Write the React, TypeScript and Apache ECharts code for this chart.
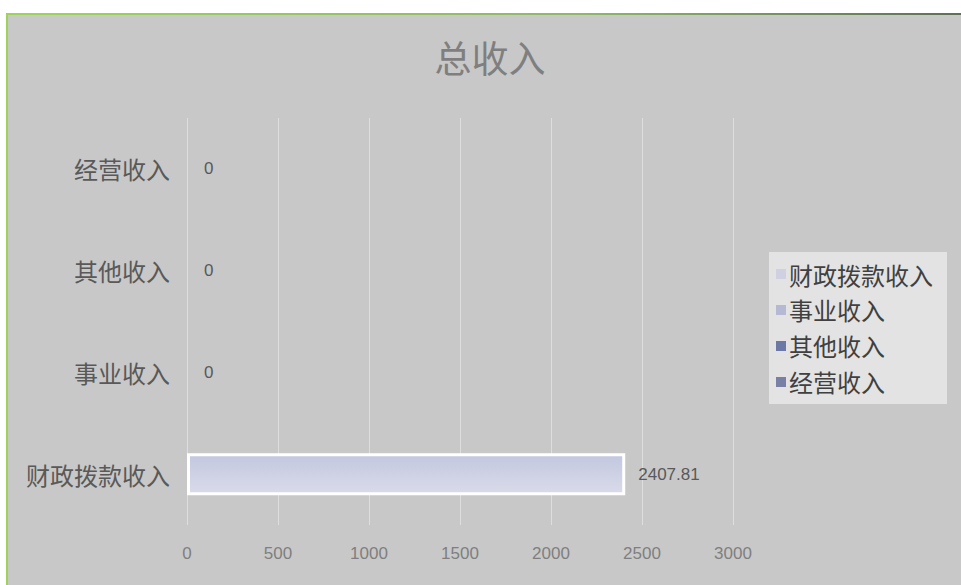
import React, { useEffect, useRef } from "react";
import * as echarts from "echarts";

const categories = ["财政拨款收入", "事业收入", "其他收入", "经营收入"];
const values = [2407.81, 0, 0, 0];
const legendColors = ["#cfd1e3", "#b5b9d3", "#6c78a6", "#7880a6"];
const axisTicks = [0, 3000, 500];

export default function App() {
  const ref = useRef<HTMLDivElement>(null);
  useEffect(() => {
    if (!ref.current) return;
    const chart = echarts.init(ref.current, undefined, { renderer: "svg" });
    const cjk = "'Noto Sans CJK SC', 'Microsoft YaHei', sans-serif";
    const series = categories.map((name, i) => ({
      name,
      type: "bar",
      stack: "total",
      barWidth: 42,
      data: categories.map((_, j) => (j === i ? values[i] : "-")),
      itemStyle: {
        color:
          i === 0
            ? new echarts.graphic.LinearGradient(0, 0, 0, 1, [
                { offset: 0, color: "#c3c7df" },
                { offset: 1, color: "#d9dbe9" },
              ])
            : legendColors[i],
        borderColor: "#ffffff",
        borderWidth: values[i] > 0 ? 3 : 0,
      },
      label: {
        show: true,
        position: "right",
        distance: values[i] > 0 ? 13 : 17,
        color: "#595959",
        fontSize: 17,
        fontFamily: "'Liberation Sans', sans-serif",
      },
    }));
    chart.setOption({
      animation: false,
      backgroundColor: "#ffffff",
      graphic: [
        {
          type: "rect",
          shape: { x: 6, y: 13, width: 960, height: 580 },
          style: { fill: "#c8c8c8" },
          silent: true,
          z: -10,
        },
        {
          type: "rect",
          shape: { x: 6, y: 13, width: 960, height: 2 },
          style: {
            fill: new echarts.graphic.LinearGradient(0, 0, 1, 0, [
              { offset: 0, color: "#9ed35a" },
              { offset: 0.6, color: "#8fb86a" },
              { offset: 1, color: "#5e6e55" },
            ]),
          },
          silent: true,
          z: -9,
        },
        {
          type: "rect",
          shape: { x: 6, y: 13, width: 2, height: 580 },
          style: { fill: "#9ed35a" },
          silent: true,
          z: -9,
        },
      ],
      title: {
        text: "总收入",
        left: 485,
        top: 33,
        textAlign: "center",
        textStyle: {
          fontSize: 37,
          fontWeight: "normal",
          color: "#7f7f7f",
          fontFamily: cjk,
        },
      },
      legend: {
        orient: "vertical",
        left: 769,
        top: 252,
        icon: "rect",
        itemWidth: 10,
        itemHeight: 10,
        itemGap: 12,
        backgroundColor: "#e3e3e3",
        padding: [10, 14, 10, 7],
        data: categories.map((name, i) => ({
          name,
          itemStyle: { color: legendColors[i], borderWidth: 0 },
        })),
        textStyle: {
          fontSize: 24,
          color: "#404040",
          fontFamily: cjk,
          padding: [0, 0, 0, -2],
        },
      },
      grid: { left: 187, right: 228, top: 118, bottom: 60 },
      xAxis: {
        type: "value",
        min: axisTicks[0],
        max: axisTicks[1],
        interval: axisTicks[2],
        axisLine: { show: false },
        axisTick: { show: false },
        splitLine: { lineStyle: { color: "#dedede", width: 1 } },
        axisLabel: {
          color: "#7f7f7f",
          fontSize: 17,
          margin: 20,
          fontFamily: "'Liberation Sans', sans-serif",
          formatter: (v: number) => String(v),
        },
      },
      yAxis: {
        type: "category",
        data: categories,
        axisLine: { show: false },
        axisTick: { show: false },
        axisLabel: {
          color: "#595959",
          fontSize: 24,
          margin: 17,
          fontFamily: cjk,
        },
      },
      series,
    });
    return () => chart.dispose();
  }, []);
  return (
    <div
      ref={ref}
      style={{ position: "absolute", left: 0, top: 0, width: 961, height: 585 }}
    />
  );
}
